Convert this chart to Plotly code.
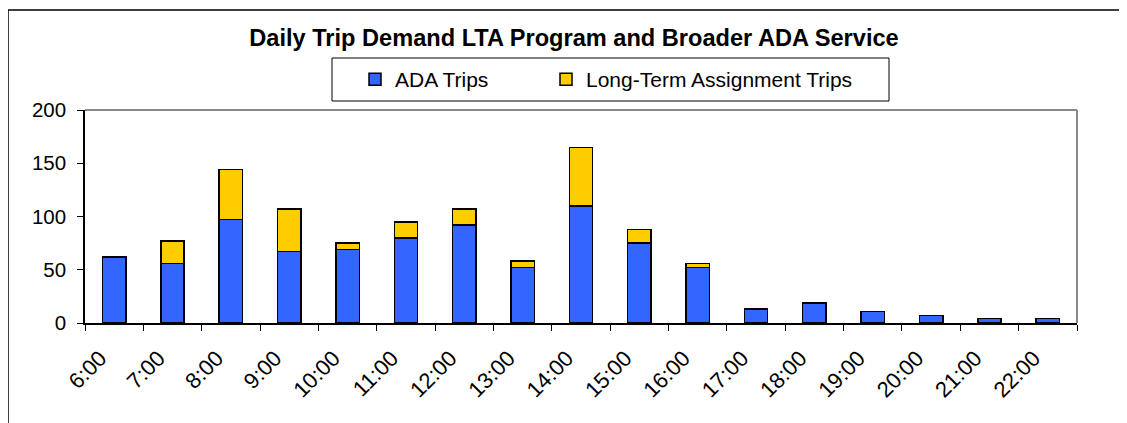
import plotly.graph_objects as go

hours = ["6:00", "7:00", "8:00", "9:00", "10:00", "11:00", "12:00", "13:00", "14:00",
         "15:00", "16:00", "17:00", "18:00", "19:00", "20:00", "21:00", "22:00"]
ada_trips = [62, 56, 97, 67, 69, 80, 92, 52, 110, 75, 52, 13, 19, 11, 7, 4, 4]
lta_trips = [0, 21, 47, 40, 6, 15, 15, 6, 55, 13, 4, 0, 0, 0, 0, 0, 0]

FONT = "Arial, Liberation Sans, sans-serif"

# page offset (default body margin of the html page)
OFF = 8
PAGE_W, PAGE_H = 1127, 423
W, H = PAGE_W - OFF, PAGE_H - OFF
# plot area in page pixels
L, R, T, B = 85, 1077, 110, 323
PW, PH = R - L, B - T


def px_x(x):
    return (x - L) / PW


def px_y(y):
    return (B - y) / PH


fig = go.Figure()
fig.add_trace(go.Bar(
    x=hours, y=ada_trips, name="ADA Trips", legend="legend",
    marker=dict(color="#3366FF", line=dict(color="black", width=1.5)),
))
fig.add_trace(go.Bar(
    x=hours, y=[v if v else None for v in lta_trips],
    name="Long-Term Assignment Trips", legend="legend2",
    marker=dict(color="#FFCC00", line=dict(color="black", width=1.5)),
))

legend_common = dict(
    orientation="h", xanchor="left", yanchor="middle",
    xref="paper", yref="paper",
    bgcolor="rgba(0,0,0,0)", borderwidth=0,
    font=dict(family=FONT, size=21, color="black"),
)

fig.update_layout(
    width=W, height=H,
    margin=dict(l=L - OFF, r=PAGE_W - R, t=T - OFF, b=PAGE_H - B, pad=0),
    barmode="stack", bargap=0.6,
    plot_bgcolor="white", paper_bgcolor="white",
    font=dict(family=FONT, color="black", size=20),
    title=dict(
        text="Daily Trip Demand LTA Program and Broader ADA Service",
        font=dict(family=FONT, size=23.6, color="black", weight="bold"),
        x=(574 - OFF) / W, xref="container", xanchor="center",
        y=1 - (38 - OFF) / H, yref="container", yanchor="middle",
    ),
    showlegend=True,
    legend=dict(x=px_x(355), y=px_y(79.5), **legend_common),
    legend2=dict(x=px_x(546), y=px_y(79.5), **legend_common),
    xaxis=dict(
        type="category",
        showline=True, linecolor="black", linewidth=1.5,
        ticks="outside", ticklen=6, tickcolor="black", tickwidth=1,
        tickson="boundaries", tickangle=-45,
        showgrid=False, zeroline=False,
        tickfont=dict(family=FONT, size=22, color="black"),
        ticklabelstandoff=12, ticklabelshift=-14,
    ),
    yaxis=dict(
        range=[0, 200], dtick=50, tick0=0,
        showline=True, linecolor="black", linewidth=1.5,
        ticks="outside", ticklen=6, tickcolor="black", tickwidth=1,
        showgrid=False, zeroline=False,
        tickfont=dict(family=FONT, size=20.5, color="black"),
        ticklabelstandoff=7,
    ),
    shapes=[
        # outer chart frame
        dict(type="rect", xref="paper", yref="paper",
             x0=px_x(8), x1=px_x(1140), y0=px_y(10), y1=px_y(440),
             line=dict(color="black", width=1.5), layer="below"),
        # gray plot frame top/right
        dict(type="line", xref="paper", yref="paper", x0=0, x1=1, y0=1, y1=1,
             line=dict(color="#888888", width=2)),
        dict(type="line", xref="paper", yref="paper", x0=1, x1=1, y0=0, y1=1,
             line=dict(color="#888888", width=2)),
        # legend box
        dict(type="rect", xref="paper", yref="paper",
             x0=px_x(332), x1=px_x(889), y0=px_y(58), y1=px_y(101),
             line=dict(color="black", width=1)),
    ],
)

fig.write_html("out.html")
